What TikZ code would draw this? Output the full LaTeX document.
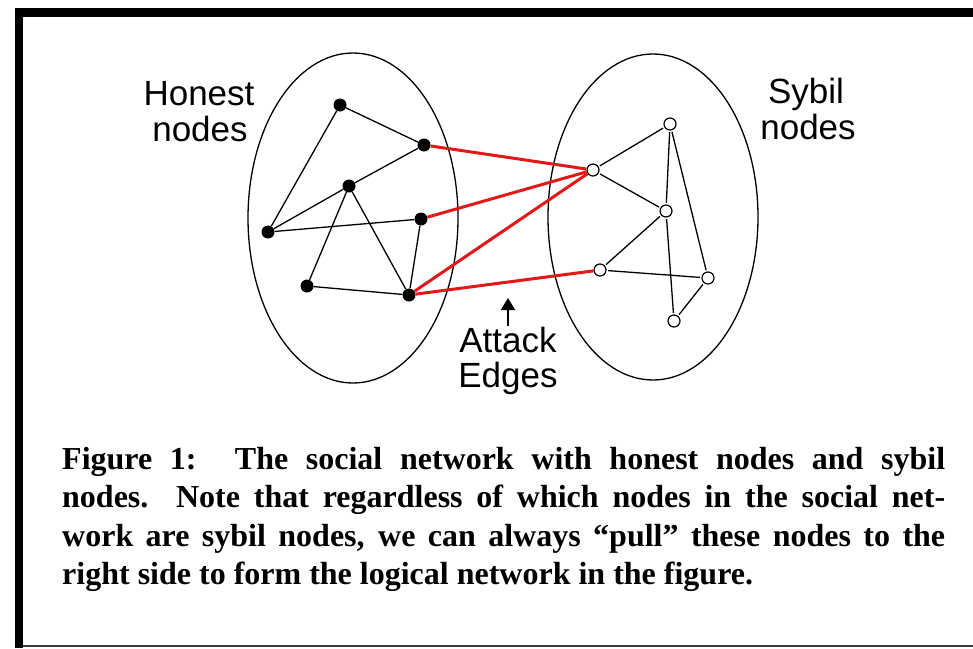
\documentclass[tikz,border=0pt]{standalone}
\usepackage{fontspec}
\setmainfont{Liberation Serif}
\newfontfamily\labelsf{Liberation Sans}
\usetikzlibrary{arrows.meta}
\definecolor{attackred}{RGB}{225,25,25}
\definecolor{framegrey}{RGB}{60,60,60}
\tikzset{
  honest/.style={circle, fill=black, draw=none, minimum size=13pt, inner sep=0pt},
  sybil/.style={circle, draw=black, fill=white, line width=1.2pt, minimum size=12pt, inner sep=0pt},
  link/.style={line width=1.3pt, black},
  attack/.style={line width=3pt, attackred},
  setline/.style={line width=1.3pt, black},
  lbl/.style={anchor=base, inner sep=0pt, font=\labelsf\fontsize{35}{36}\selectfont},
}
\begin{document}
\begin{tikzpicture}[x=1pt, y=-1pt]
\useasboundingbox (0,0) rectangle (973,648);
% frame
\fill[black] (15,8) rectangle (23,648);
\fill[black] (15,8) rectangle (973,17);
\draw[framegrey, line width=1.3pt] (23,646) -- (973,646);
% sets
\draw[setline] (353,218) ellipse [x radius=105pt, y radius=165pt];
\draw[setline] (653,217) ellipse [x radius=105pt, y radius=163pt];
% honest nodes
\node[honest] (A) at (340,105) {};
\node[honest] (B) at (424,145) {};
\node[honest] (C) at (349,186) {};
\node[honest] (D) at (421,219) {};
\node[honest] (E) at (268,232) {};
\node[honest] (F) at (307,286) {};
\node[honest] (G) at (409,295) {};
% sybil nodes
\node[sybil] (a) at (670,124) {};
\node[sybil] (b) at (593,170) {};
\node[sybil] (c) at (666,211) {};
\node[sybil] (d) at (600,270) {};
\node[sybil] (e) at (708,278) {};
\node[sybil] (f) at (674,321) {};
% honest edges
\draw[link] (A) -- (B);
\draw[link] (A) -- (E);
\draw[link] (B) -- (C);
\draw[link] (C) -- (E);
\draw[link] (E) -- (D);
\draw[link] (C) -- (F);
\draw[link] (C) -- (G);
\draw[link] (F) -- (G);
\draw[link] (D) -- (G);
% sybil edges
\draw[link, shorten <=1.5pt, shorten >=1.5pt] (b) -- (a);
\draw[link, shorten <=1.5pt, shorten >=1.5pt] (b) -- (c);
\draw[link, shorten <=1.5pt, shorten >=1.5pt] (a) -- (c);
\draw[link, shorten <=1.5pt, shorten >=1.5pt] (c) -- (f);
\draw[link, shorten <=1.5pt, shorten >=1.5pt] (a) -- (e);
\draw[link, shorten <=1.5pt, shorten >=1.5pt] (c) -- (d);
\draw[link, shorten <=1.5pt, shorten >=1.5pt] (d) -- (e);
\draw[link, shorten <=1.5pt, shorten >=1.5pt] (e) -- (f);
% attack edges
\draw[attack] (B) -- (b);
\draw[attack] (D) -- (b);
\draw[attack] (G) -- (b);
\draw[attack] (G) -- (d);
% labels
\node[lbl] (h1) at (199,105) {Honest};
\node[lbl] (h2) at (200,141) {nodes};
\node[lbl] (s1) at (806,103) {Sybil};
\node[lbl] (s2) at (808,139) {nodes};
\node[lbl] (t1) at (508,352) {Attack};
\node[lbl] (t2) at (508,387) {Edges};
\coordinate (arrtail) at (508,326);
\coordinate (arrtip) at (508,298);
\draw[line width=2.2pt, -{Triangle[width=14pt,length=12pt]}] (arrtail) -- (arrtip);
% caption
\node[anchor=base west, inner sep=0pt] (cap) at (62,469) {\parbox[t]{883pt}{\bfseries\fontsize{32}{38.5}\selectfont
Figure 1:\hspace{1.2em}The social network with honest nodes and sybil\linebreak
nodes.\ \ Note that regardless of which nodes in the social net-\linebreak
work are sybil nodes, we can always “pull” these nodes to the\linebreak
right side to form the logical network in the figure.}};
\end{tikzpicture}
\end{document}
